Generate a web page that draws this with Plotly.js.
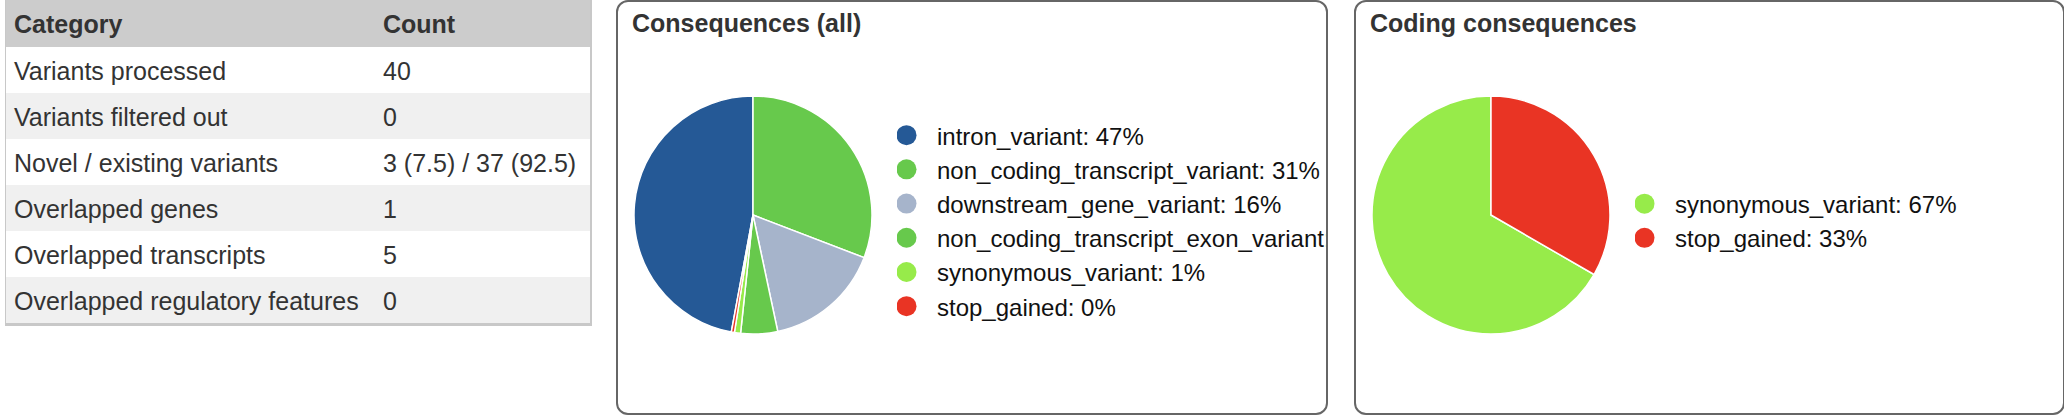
<!DOCTYPE html>
<html>
<head>
<meta charset="utf-8">
<script src="https://cdn.plot.ly/plotly-3.0.1.min.js"></script>
<style>
html, body { margin:0; padding:0; background:#fff; width:2064px; height:416px; overflow:hidden; font-family:"Liberation Sans", Arial, sans-serif; }
#tbl { position:absolute; left:0; top:0; width:600px; height:416px; }
#tbl .cell-text { transform: translateY(6px); }
#tblborder { position:absolute; left:5px; top:0; width:584px; height:323px; border-left:1px solid #c8c8c8; border-right:2px solid #c8c8c8; border-bottom:3px solid #c8c8c8; pointer-events:none; }
.box { position:absolute; top:0; height:415px; box-sizing:border-box; border:2px solid #666; border-radius:12px; overflow:hidden; background:#fff; }
#box1 { left:616px; width:712px; }
#box2 { left:1354px; width:711px; }
.pie { position:absolute; left:0; top:0; width:708px; height:411px; }
</style>
</head>
<body>
<div id="tbl"></div>
<div id="tblborder"></div>
<div class="box" id="box1"><div class="pie" id="pie1"></div></div>
<div class="box" id="box2"><div class="pie" id="pie2"></div></div>
<script>
// ---- data ----
const tableHeader = ['Category', 'Count'];
const tableCategories = ['Variants processed', 'Variants filtered out', 'Novel / existing variants', 'Overlapped genes', 'Overlapped transcripts', 'Overlapped regulatory features'];
const tableCounts = ['40', '0', '3 (7.5) / 37 (92.5)', '1', '5', '0'];

const allTitle = 'Consequences (all)';
const allLabels = ['intron_variant', 'non_coding_transcript_variant', 'downstream_gene_variant', 'non_coding_transcript_exon_variant', 'synonymous_variant', 'stop_gained'];
const allCounts = [113, 74, 38, 12, 2, 1];
const allColors = ['#255996', '#67C94C', '#A6B4CB', '#67C94C', '#97EB4A', '#E93424'];

const codingTitle = 'Coding consequences';
const codingLabels = ['synonymous_variant', 'stop_gained'];
const codingCounts = [2, 1];
const codingColors = ['#97EB4A', '#E93424'];

// ---- rendering ----
const FONT = '"Liberation Sans", Arial, Helvetica, sans-serif';

const rowFills = tableCategories.map((_, i) => (i % 2 ? '#f0f0f0' : '#ffffff'));
Plotly.newPlot('tbl', [{
  type: 'table',
  domain: {x: [6/600, 592/600], y: [0, 1]},
  columnwidth: [369, 217],
  header: {
    values: tableHeader,
    align: 'left',
    height: 47,
    fill: {color: '#cccccc'},
    line: {color: '#cccccc', width: 0},
    font: {family: FONT, size: 25, color: '#333333', weight: 'bold'}
  },
  cells: {
    values: [tableCategories, tableCounts],
    align: 'left',
    height: 46,
    fill: {color: [rowFills, rowFills]},
    line: {color: [rowFills, rowFills], width: 0},
    font: {family: FONT, size: 25, color: '#333333'}
  }
}], {
  width: 600, height: 416,
  margin: {l: 0, r: 0, t: 0, b: 0},
  paper_bgcolor: 'rgba(0,0,0,0)'
}, {displayModeBar: false, staticPlot: true});

function pctLabels(labels, counts) {
  const total = counts.reduce((a, b) => a + b, 0);
  return labels.map((l, i) => l + ': ' + Math.round(counts[i] / total * 100) + '%');
}

const W = 708, H = 411, CX = 135, CY = 213, R = 119;

function pieFigure(title, labels, counts, colors) {
  const total = counts.reduce((a, b) => a + b, 0);
  return {
    data: [{
      type: 'pie',
      labels: pctLabels(labels, counts),
      values: counts,
      sort: false,
      direction: 'clockwise',
      // first slice ends at 12 o'clock; the following slices continue clockwise from 12
      rotation: -counts[0] / total * 360,
      textinfo: 'none',
      hoverinfo: 'none',
      marker: {colors: colors, line: {color: '#ffffff', width: 1.5}},
      domain: {x: [(CX - R) / W, (CX + R) / W], y: [1 - (CY + R) / H, 1 - (CY - R) / H]}
    }],
    layout: {
      width: W, height: H,
      margin: {l: 0, r: 0, t: 0, b: 0, autoexpand: false},
      paper_bgcolor: 'rgba(0,0,0,0)',
      showlegend: true,
      title: {
        text: title,
        font: {family: FONT, size: 25, color: '#333333', weight: 'bold'},
        xref: 'container', yref: 'container',
        x: 14 / W, xanchor: 'left',
        y: 1 - 12.5 / H, yanchor: 'top'
      },
      legend: {
        x: 279 / W, xanchor: 'left',
        y: 0.467, yanchor: 'middle',
        font: {family: FONT, size: 24, color: '#111111'},
        bgcolor: 'rgba(0,0,0,0)', borderwidth: 0,
        itemclick: false, itemdoubleclick: false
      }
    }
  };
}

function circleSwatches(gd) {
  gd.querySelectorAll('.legendpie').forEach(p => {
    const g = p.closest('.traces');
    const t = g ? g.querySelector('.legendtext') : null;
    const tx = t ? (parseFloat(t.getAttribute('x')) || 40) : 40;
    p.setAttribute('d', 'M10,0A10,10 0 1,1 0,-10A10,10 0 0,1 10,0Z');
    p.setAttribute('transform', 'translate(' + (tx - 30.5) + ',0)');
    p.style.strokeWidth = '0';
  });
}

const f1 = pieFigure(allTitle, allLabels, allCounts, allColors);
Plotly.newPlot('pie1', f1.data, f1.layout, {displayModeBar: false, staticPlot: true}).then(circleSwatches);
const f2 = pieFigure(codingTitle, codingLabels, codingCounts, codingColors);
Plotly.newPlot('pie2', f2.data, f2.layout, {displayModeBar: false, staticPlot: true}).then(circleSwatches);
</script>
</body>
</html>
